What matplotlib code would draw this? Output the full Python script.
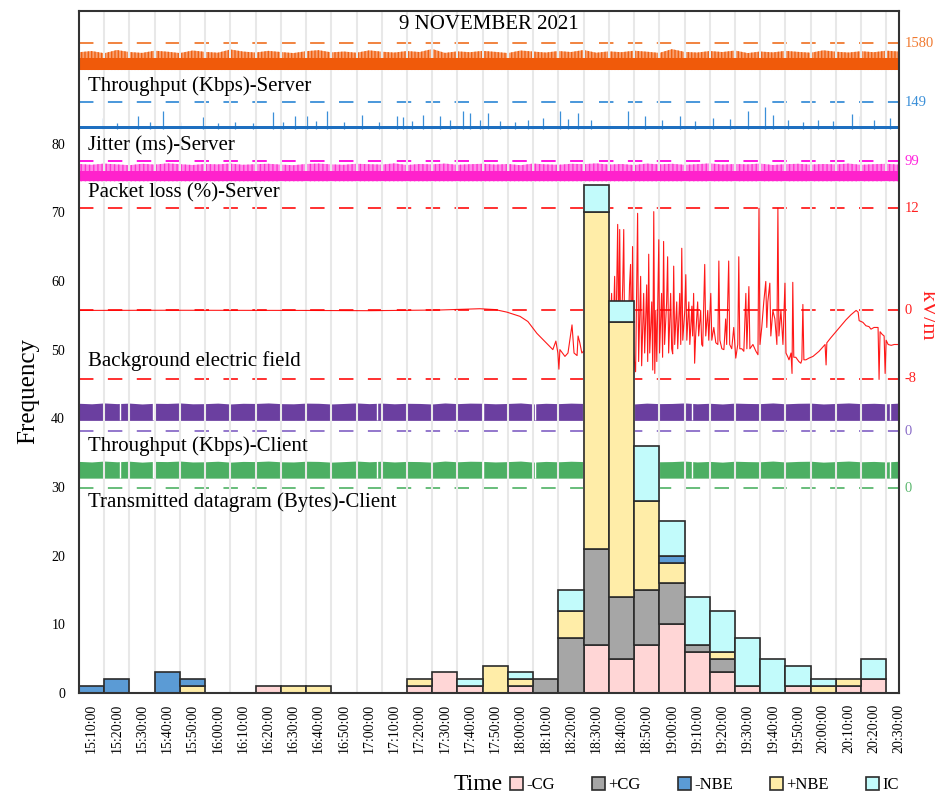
import matplotlib.pyplot as plt
import matplotlib.patches as mpatches
import numpy as np

plt.rcParams['font.family'] = ['Liberation Serif', 'DejaVu Serif']

# 10-minute bins
times = ['15:10:00', '15:20:00', '15:30:00', '15:40:00', '15:50:00', '16:00:00',
         '16:10:00', '16:20:00', '16:30:00', '16:40:00', '16:50:00', '17:00:00',
         '17:10:00', '17:20:00', '17:30:00', '17:40:00', '17:50:00', '18:00:00',
         '18:10:00', '18:20:00', '18:30:00', '18:40:00', '18:50:00', '19:00:00',
         '19:10:00', '19:20:00', '19:30:00', '19:40:00', '19:50:00', '20:00:00',
         '20:10:00', '20:20:00', '20:30:00']

neg_cg = [0, 0, 0, 0, 0, 0, 0, 1, 0, 0, 0, 0, 0, 1, 3, 1, 0, 1, 0, 0, 7, 5, 7, 10, 6, 3, 1, 0, 1, 0, 1, 2, 0]
pos_cg = [0, 0, 0, 0, 0, 0, 0, 0, 0, 0, 0, 0, 0, 0, 0, 0, 0, 0, 2, 8, 14, 9, 8, 6, 1, 2, 0, 0, 0, 0, 0, 0, 0]
pos_nbe = [0, 0, 0, 0, 1, 0, 0, 0, 1, 1, 0, 0, 0, 1, 0, 0, 4, 1, 0, 4, 49, 40, 13, 3, 0, 1, 0, 0, 0, 1, 1, 0, 0]
neg_nbe = [1, 2, 0, 3, 1, 0, 0, 0, 0, 0, 0, 0, 0, 0, 0, 0, 0, 0, 0, 0, 0, 0, 0, 1, 0, 0, 0, 0, 0, 0, 0, 0, 0]
ic = [0, 0, 0, 0, 0, 0, 0, 0, 0, 0, 0, 0, 0, 0, 0, 1, 0, 1, 0, 3, 4, 3, 8, 5, 7, 6, 7, 5, 3, 1, 0, 3, 0]

# electric field trace: minutes after 15:00, kV/m
ef_min = [5, 40, 92.6, 120, 148.1, 158.0, 163.9, 169.9, 174.6, 179.8, 182.9, 186.5, 190.5,
          192.8, 194.0, 194.8, 195.2, 195.6, 197.6, 198.8, 200.4, 201.2, 202.4, 202.8,
          203.5, 204.3, 207.5, 211.5,
          214.9, 215.3, 216.1, 216.5, 217.3, 217.7, 218.5, 218.9, 219.3, 219.7, 220.5,
          220.9, 221.3, 222.1, 222.4, 223.2, 223.6, 224.0, 224.4, 224.8, 225.6, 226.0,
          226.4, 226.8, 227.6, 228.0, 228.8, 229.2, 230.0, 230.4, 230.8, 231.2, 232.0,
          232.4, 232.8, 233.2, 233.6, 234.0, 234.8, 235.1, 235.9, 236.3, 236.7, 237.1,
          237.9, 238.3, 238.7, 239.5, 239.9, 240.3, 240.7, 241.1, 241.9, 242.3, 243.1,
          243.5, 243.9, 244.3, 245.1, 245.5, 245.9, 246.7, 247.1, 247.9, 248.2, 248.6,
          249.0, 249.4, 250.2, 250.6, 251.4, 251.8, 252.2, 253.0, 253.4, 254.2, 254.6,
          255.4, 255.8, 256.6, 257.4, 258.2, 258.6, 259.0, 259.8, 260.6, 261.3, 261.7,
          262.5, 262.9, 263.7, 264.5, 265.3, 266.1, 266.5, 266.9, 267.7, 268.5, 269.3,
          269.7, 270.5, 270.9, 272.1, 273.3, 274.1, 274.5, 274.9, 275.6, 276.4, 277.2,
          277.6, 278.0, 278.8, 279.2, 280.0, 280.8, 281.6, 282.0, 282.4, 283.2, 284.0,
          284.8, 285.2, 286.0, 286.4, 287.2, 287.6, 287.9, 288.3, 289.1, 290.3, 291.1,
          291.5, 291.9, 292.3, 293.1, 294.3, 295.9, 298.3, 300.7, 301.1, 301.4, 303.0,
          305.0, 307.0, 309.0, 311.0, 313.0, 313.8, 314.2, 315.7, 316.9, 318.1, 318.9,
          320.1, 321.7, 322.1, 322.5, 323.3, 324.1, 324.5, 324.9, 325.7, 326.9, 328.1,
          329.7, 330.4]
ef_kv = [0, 0.02, 0, -0.03, 0.05, 0.15, 0.2, 0.1, -0.2, -0.7, -1.3, -2.7, -3.9,
         -4.6, -3.6, -5.0, -6.9, -4.6, -5.4, -5.0, -1.7, -5.0, -5.3, -3.0,
         -3.8, -5.0, -4.0, -5.0,
         6.6, -4.5, 2, -5, 4, -5.5, 10.1, -4, 9.5, -5, 3,
         9.5, -5.5, 1, -6, 3, 5.4, -6.5, 7.5, -5, -7.2, 2,
         11.4, -6, 4, -6.5, 2, -5, 3, -6, 6.6, -5, 1,
         -7, 11.6, -7.4, 0, -6, 8.3, -5, 2, -5.5, 8.1, -4,
         1, 6.3, -5, 2, -4.5, -5.1, 5.2, -4, 1, -4.5, 2,
         -4, 7.3, -3.5, 0, 4.2, -3.5, 1, -4, 0.5, -3, 2.0,
         -6.2, -3, 1, -3, 0, -4, -4.2, 5.4, -3, 0, -3.5,
         2, -3.5, -2, -3.8, -4, 5.8, -3.5, -4.5, -4.6, -1, -4,
         5.8, -4, -4.5, -2, -5.6, -4, 6.3, -4.5, -4.5, -4.8, 2,
         -4.5, 2.8, -4.5, -4, -4.8, -5.2, 12, -4, -2, 1, 3.4,
         -2, 1, 3.2, -3, 0, -1, -4, 12, -3, 0, -4,
         3.2, -5, -5.5, -5.8, -5, -7.4, 3.3, -5.5, -5.5, -6, -6.2,
         -5.8, 0.7, -5.8, -5.8, -5.6, -5.4, -4.8, -4.0, -6.4, -3.8, -3.2,
         -2.5, -1.8, -1.1, -0.5, 0, -0.2, -1.2, -1.4, -1.8, -1.9, -2.2,
         -2.0, -2.0, -8.1, -2.5, -2.8, -3.0, -7.4, -3.5, -4.0, -4.1, -4.0,
         -4.0, -3.7]

# jitter spikes (minutes after 15:00, ms)
jit_min = [14.5, 20, 28.4, 33, 38.3, 45, 54.1, 60, 67, 74, 81.9, 86, 90.6, 95.4, 99, 103.3,
           110, 117.2, 124, 131.0, 133.4, 137, 141.3, 148.1, 152, 157.2, 160.0, 164, 167.1,
           172, 178, 183, 188.9, 195.6, 199, 202.8, 208, 215, 222.6, 229.3, 236, 243.2, 249,
           256.3, 263, 270.1, 276.9, 280.0, 286, 292, 298, 304, 311.3, 314.5, 320, 326.4]
jit_ms = [62, 35, 72, 40, 99, 38, 66, 35, 42, 36, 94, 40, 72, 72, 45, 99,
          38, 81, 40, 72, 66, 44, 81, 72, 48, 99, 90, 50, 90,
          45, 40, 52, 62, 103, 55, 90, 48, 44, 99, 72, 50, 72, 45,
          62, 55, 99, 121, 81, 48, 40, 52, 45, 85, 72, 48, 62]
jitter_base = 15

# envelopes sampled every 5 minutes from 15:05 to 20:30
env_min = list(range(5, 331, 5))
thr_srv_top = [1050, 1120, 990, 1180, 1060, 1010, 1140, 1080, 1000, 1150,
               1070, 1020, 1210, 1090, 1030, 1130, 1060, 1000, 1110, 1170,
               1040, 1090, 1020, 1160, 1080, 1030, 1120, 1060, 1240, 1010,
               1100, 1050, 1130, 1070, 1000, 1150, 1090, 1030, 1120, 1060,
               1180, 1020, 1100, 1050, 1140, 1080, 1010, 1230, 1070, 1030,
               1120, 1060, 1150, 1000, 1090, 1040, 1130, 1070, 1020, 1160,
               1080, 1030, 1110, 1050, 1140, 1090]
thr_srv_solid = 700
loss_top = [86, 82, 88, 84, 80, 87, 83, 89, 85, 81, 86, 84, 88, 82, 85, 87, 83, 80, 86, 88,
            84, 82, 87, 85, 83, 89, 81, 86, 84, 88, 82, 85, 87, 83, 86, 80, 88, 84, 82, 87,
            85, 89, 83, 86, 81, 88, 84, 87, 82, 85, 89, 83, 86, 84, 88, 81, 85, 87, 83, 86,
            84, 88, 82, 85, 87, 83]
loss_solid = 50
thr_cli_top = [1640, 1610, 1660, 1620, 1650, 1600, 1640, 1630, 1660, 1610,
               1620, 1650, 1600, 1640, 1630, 1660, 1620, 1610, 1650, 1640,
               1600, 1630, 1660, 1620, 1650, 1610, 1640, 1630, 1600, 1660,
               1620, 1650, 1640, 1610, 1630, 1660, 1600, 1640, 1620, 1650,
               1630, 1610, 1660, 1640, 1600, 1650, 1620, 1630, 1660, 1610,
               1640, 1600, 1650, 1630, 1620, 1660, 1610, 1640, 1650, 1600,
               1630, 1660, 1620, 1640, 1610, 1650]
thr_cli_low = 640
dgram_top = [1480, 1450, 1500, 1460, 1490, 1440, 1480, 1470, 1500, 1450,
             1460, 1490, 1440, 1480, 1470, 1500, 1460, 1450, 1490, 1480,
             1440, 1470, 1500, 1460, 1490, 1450, 1480, 1470, 1440, 1500,
             1460, 1490, 1480, 1450, 1470, 1500, 1440, 1480, 1460, 1490,
             1470, 1450, 1500, 1480, 1440, 1490, 1460, 1470, 1500, 1450,
             1480, 1440, 1490, 1470, 1460, 1500, 1450, 1480, 1490, 1440,
             1470, 1500, 1460, 1480, 1450, 1490]
dgram_low = 560
client_gap_min = [21.2, 34.3, 123.1, 165.1, 185.7, 247.9, 326.4]


def tx(m):
    # minutes after 15:00 -> bin index
    return (np.asarray(m, dtype=float) - 10) / 10


fig = plt.figure(figsize=(9.35, 7.94), dpi=100)
ax = fig.add_axes([0.0845, 0.1272, 0.877, 0.859])

# vertical light grid between bins
ax.set_xticks(np.arange(len(times) - 1) + 0.5, minor=True)
ax.grid(which='minor', axis='x', color='#e8e8e8', lw=1.5, zorder=0)
ax.tick_params(which='minor', length=0)

ex = tx(env_min)
dash = dict(lw=1.3, dashes=(8, 8), zorder=1)
x_full = [-0.5, 32.0]

# throughput server (orange)
k, b = 3.9 / 1580, 90.7
ax.fill_between(ex, b, b + k * np.array(thr_srv_top), facecolor='#f8a070', edgecolor='#f06010',
                hatch='|||||', lw=0, zorder=1.5)
ax.fill_between(x_full, b, b + k * thr_srv_solid, color='#f05a0a', lw=0, zorder=1.6)
ax.axhline(b + k * 1580, color='#f07a30', **dash)

# jitter server (blue)
k, b = 3.9 / 149, 82.1
ax.vlines(tx(jit_min), b, b + k * np.array(jit_ms), color='#3a8fd8', lw=0.9, zorder=1.5)
ax.fill_between(x_full, b, b + k * jitter_base, color='#1e6fc0', lw=0, zorder=1.6)
ax.axhline(b + k * 149, color='#3a8fd8', **dash)

# packet loss server (magenta)
k, b = 2.9 / 99, 74.5
ax.fill_between(ex, b, b + k * np.array(loss_top), facecolor='#ff88e8', edgecolor='#ff33d0',
                hatch='||||', lw=0, zorder=1.5)
ax.fill_between(x_full, b, b + k * loss_solid, color='#ff22cc', lw=0, zorder=1.6)
ax.axhline(b + k * 99, color='#ff00dd', **dash)

# electric field (red)
k, b = 1.24, 55.7
ax.plot(tx(ef_min), b + k * np.array(ef_kv), color='#ff0000', lw=0.8, alpha=0.9, zorder=2)
for v in (12, 0, -8):
    ax.axhline(b + k * v, color='#ff2020', **dash)

# throughput client (purple)
k, b = 0.002488, 38.1
ax.fill_between(ex, b + k * thr_cli_low, b + k * np.array(thr_cli_top), color='#6b3fa0', lw=0, zorder=1.5)
ax.vlines(tx(client_gap_min), b + k * thr_cli_low, b + k * 1700, color='white', lw=1.0, zorder=1.7)
ax.axhline(b, color='#8a6cc8', **dash)

# transmitted datagram client (green)
k, b = 0.002647, 29.8
ax.fill_between(ex, b + k * dgram_low, b + k * np.array(dgram_top), color='#4caf63', lw=0, zorder=1.5)
ax.vlines(tx(client_gap_min), b + k * dgram_low, b + k * 1550, color='white', lw=1.0, zorder=1.7)
ax.axhline(b, color='#5cb870', **dash)

# stacked bars
x = np.arange(len(times))
series = [('-CG', neg_cg, '#ffd6d6'), ('+CG', pos_cg, '#a6a6a6'), ('+NBE', pos_nbe, '#ffeda8'),
          ('-NBE', neg_nbe, '#5b9bd5'), ('IC', ic, '#c2fbfb')]
bottom = np.zeros(len(times))
handles = {}
for name, vals, col in series:
    vals = np.array(vals, dtype=float)
    m = vals > 0
    ax.bar(x[m], vals[m], bottom=bottom[m], width=1.0, color=col, edgecolor='#2b2b2b',
           lw=1.2, zorder=3)
    handles[name] = mpatches.Patch(facecolor=col, edgecolor='#2b2b2b', lw=1.2)
    bottom += vals

# texts
tkw = dict(fontsize=15, va='center', ha='left', zorder=4)
ax.text(15.75, 97.3, '9 NOVEMBER 2021', fontsize=15, ha='center', va='center')
ax.text(-0.15, 88.4, 'Throughput (Kbps)-Server', **tkw)
ax.text(-0.15, 79.6, 'Jitter (ms)-Server', **tkw)
ax.text(-0.15, 72.8, 'Packet loss (%)-Server', **tkw)
ax.text(-0.15, 48.3, 'Background electric field', **tkw)
ax.text(-0.15, 36.0, 'Throughput (Kbps)-Client', **tkw)
ax.text(-0.15, 27.8, 'Transmitted datagram (Bytes)-Client', **tkw)

yt = ax.get_yaxis_transform()
right_labels = [(94.6, '1580', '#f07a30'), (86.0, '149', '#3a8fd8'), (77.4, '99', '#ff22dd'),
                (70.6, '12', '#ff2020'), (55.7, '0', '#ff2020'), (45.8, '-8', '#ff2020'),
                (38.1, '0', '#8a6cc8'), (29.8, '0', '#5cb870')]
for y, s, c in right_labels:
    ax.text(1.007, y, s, transform=yt, color=c, fontsize=10.5, ha='left', va='center')
ax.text(1.034, 55.0, 'kV/m', transform=yt, color='#ff2020', fontsize=16, rotation=-90,
        ha='center', va='center')

ax.set_yticks(np.arange(0, 81, 10))
ax.set_xticks(x)
ax.set_xticklabels(times, rotation=90, fontsize=10)
ax.tick_params(axis='both', which='major', length=0, labelsize=10)
ax.tick_params(axis='x', pad=8)
ax.tick_params(axis='y', pad=10)
ax.set_xlim(-0.5, 32.0)
ax.set_ylim(0, 99.3)
for sp in ax.spines.values():
    sp.set_color('#333333')
    sp.set_linewidth(1.5)
    sp.set_zorder(5)

fig.text(0.03, 1 - 391 / 794, 'Frequency', rotation=90, fontsize=18, ha='center', va='center')
fig.text(478 / 935, 1 - 784 / 794, 'Time', fontsize=17, ha='center', va='center')

order = ['-CG', '+CG', '-NBE', '+NBE', 'IC']
fig.legend([handles[n] for n in order], order, loc='center left',
           bbox_to_anchor=(510 / 935, 1 - 785 / 794), ncol=5, frameon=False, fontsize=12,
           handlelength=0.8, handleheight=0.8, handletextpad=0.2, columnspacing=2.2,
           borderpad=0, borderaxespad=0)

fig.savefig('out.png', dpi=100)
